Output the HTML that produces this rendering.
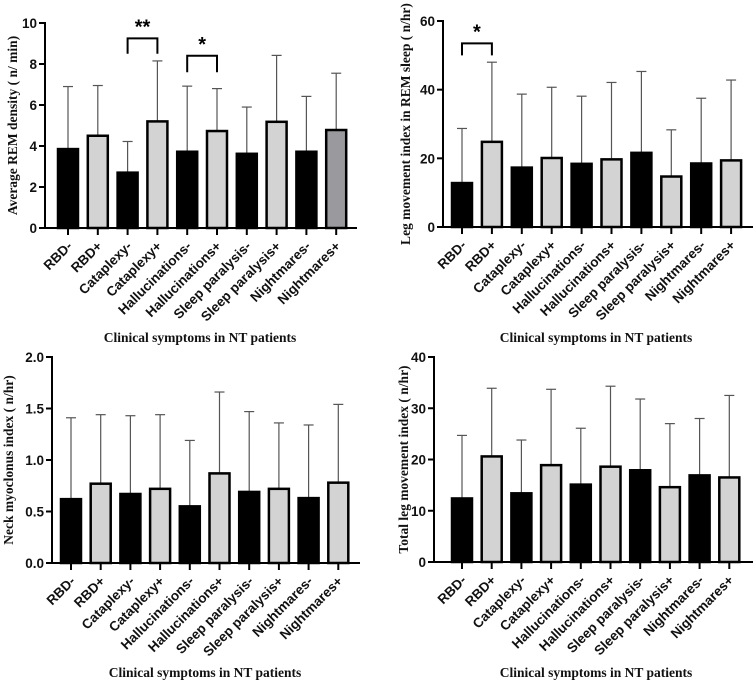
<!DOCTYPE html>
<html><head><meta charset="utf-8"><style>
body{margin:0;background:#fff;}
svg{display:block;}
.tk{font-family:"Liberation Sans",sans-serif;font-weight:bold;font-size:13.5px;fill:#111;}
.ttl{font-family:"Liberation Serif",serif;font-weight:bold;font-size:13.5px;fill:#111;}
</style></head><body>
<svg id="chart" width="753" height="682" viewBox="0 0 753 682"></svg>
<script>
const categories=["RBD-","RBD+","Cataplexy-","Cataplexy+","Hallucinations-","Hallucinations+","Sleep paralysis-","Sleep paralysis+","Nightmares-","Nightmares+"];
const remMeans=[3.85,4.5,2.7,5.2,3.72,4.73,3.62,5.18,3.72,4.78];
const remErr=[6.9,6.95,4.22,8.15,6.92,6.8,5.9,8.42,6.42,7.55];
const remTicks=[0,2,4,6,8,10];
const legMeans=[12.8,24.8,17.3,20.1,18.4,19.7,21.6,14.7,18.5,19.4];
const legErr=[28.7,48,38.7,40.7,38.1,42.1,45.3,28.3,37.5,42.8];
const legTicks=[0,20,40,60];
const neckMeans=[0.62,0.77,0.67,0.72,0.55,0.87,0.69,0.72,0.63,0.78];
const neckErr=[1.41,1.44,1.43,1.44,1.19,1.66,1.47,1.36,1.34,1.54];
const neckTicks=["0.0","0.5","1.0","1.5","2.0"];
const totMeans=[12.4,20.6,13.4,18.9,15.1,18.6,17.9,14.6,16.9,16.5];
const totErr=[24.7,33.9,23.8,33.7,26.1,34.3,31.8,27,28,32.5];
const totTicks=[0,10,20,30,40];
const remSig=[{a:2,b:3,y:9.25,d:8.5,t:"**"},{a:4,b:5,y:8.4,d:7.6,t:"*"}];
const legSig=[{a:0,b:1,y:53.5,d:50,t:"*"}];

const NS="http://www.w3.org/2000/svg";
const svg=document.getElementById('chart');
function mk(tag,attrs,parent,text){const e=document.createElementNS(NS,tag);for(const k in attrs)e.setAttribute(k,attrs[k]);if(text!==undefined)e.textContent=text;(parent||svg).appendChild(e);return e;}

function panel(cfg){
  const g=mk('g',{});
  
  
  const max=+cfg.ticks[cfg.ticks.length-1];
  const ys=v=>cfg.y0-(v/max)*(cfg.y0-cfg.yTop);
  const xs=i=>cfg.x0+i*cfg.step;
  const bw=20;
  cfg.means.forEach((m,i)=>{
    const x=xs(i);
    const eb=mk('line',{x1:x,x2:x,y1:ys(m),y2:ys(cfg.err[i]),stroke:'#555','stroke-width':1.2},g);
    
    
    const cap=mk('line',{x1:x-5,x2:x+5,y1:ys(cfg.err[i]),y2:ys(cfg.err[i]),stroke:'#555','stroke-width':1.2},g);
    
    
    let fill=i%2===0?'#000':'#d3d3d3';
    if(cfg.lastDark&&i===cfg.means.length-1)fill='#9a9a9e';
    const r=mk('rect',{x:x-bw/2,y:ys(m),width:bw,height:cfg.y0-ys(m),fill:fill,stroke:'#000','stroke-width':2.5},g);
    
    
    mk('line',{x1:x,x2:x,y1:cfg.y0,y2:cfg.y0+7,stroke:'#000','stroke-width':2},g);
    const t=mk('text',{class:'tk','text-anchor':'end',transform:`translate(${x+5},${cfg.y0+19}) rotate(-45)`},g,categories[i]);
    
    
  });
  cfg.ticks.forEach(tv=>{
    const y=ys(+tv);
    mk('line',{x1:cfg.ax-6,x2:cfg.ax,y1:y,y2:y,stroke:'#000','stroke-width':2},g);
    const t=mk('text',{class:'tk','text-anchor':'end',x:cfg.ax-8,y:y+5,'font-size':14},g,String(tv));
    
    
  });
  const ya=mk('line',{x1:cfg.ax,x2:cfg.ax,y1:cfg.yTop-1,y2:cfg.y0+1,stroke:'#000','stroke-width':2},g);
  
  
  const xa=mk('line',{x1:cfg.ax-1,x2:cfg.axEnd,y1:cfg.y0,y2:cfg.y0,stroke:'#000','stroke-width':2},g);
  
  
  (cfg.sig||[]).forEach(s=>{
    const p=mk('path',{d:`M${xs(s.a)},${ys(s.d)}V${ys(s.y)}H${xs(s.b)}V${ys(s.d)}`,fill:'none',stroke:'#000','stroke-width':2},g);
    
    
    const t=mk('text',{x:(xs(s.a)+xs(s.b))/2,y:ys(s.y)-5,'text-anchor':'middle','font-family':'Liberation Sans,sans-serif','font-weight':'bold','font-size':20},g,s.t);
    
    
  });
  const yt=mk('text',{class:'ttl','text-anchor':'middle',transform:`translate(${cfg.ytx},${(cfg.y0+cfg.yTop)/2}) rotate(-90)`},g,cfg.ytitle);
  
  
  const xt=mk('text',{class:'ttl','text-anchor':'middle',x:cfg.xtx,y:cfg.xty},g,'Clinical symptoms in NT patients');
  
  
}
panel({name:'rem-density-panel',means:remMeans,err:remErr,ticks:remTicks,ax:45,axEnd:357,y0:228,yTop:23,x0:68,step:29.8,ytitle:'Average REM density ( n/ min)',ytx:17,xtx:200,xty:342,sig:remSig,lastDark:true});
panel({name:'leg-movement-rem-panel',means:legMeans,err:legErr,ticks:legTicks,ax:443,axEnd:753,y0:227,yTop:21,x0:462,step:29.9,ytitle:'Leg movement index in REM sleep ( n/hr)',ytx:410,xtx:596,xty:342,sig:legSig});
panel({name:'neck-myoclonus-panel',means:neckMeans,err:neckErr,ticks:neckTicks,ax:52,axEnd:360,y0:563,yTop:357,x0:71,step:29.7,ytitle:'Neck myoclonus index ( n/hr)',ytx:13,xtx:205,xty:677});
panel({name:'total-leg-movement-panel',means:totMeans,err:totErr,ticks:totTicks,ax:434,axEnd:753,y0:562,yTop:357,x0:462,step:29.7,ytitle:'Total leg movement index ( n/hr)',ytx:408,xtx:596,xty:677});
</script>
</body></html>
